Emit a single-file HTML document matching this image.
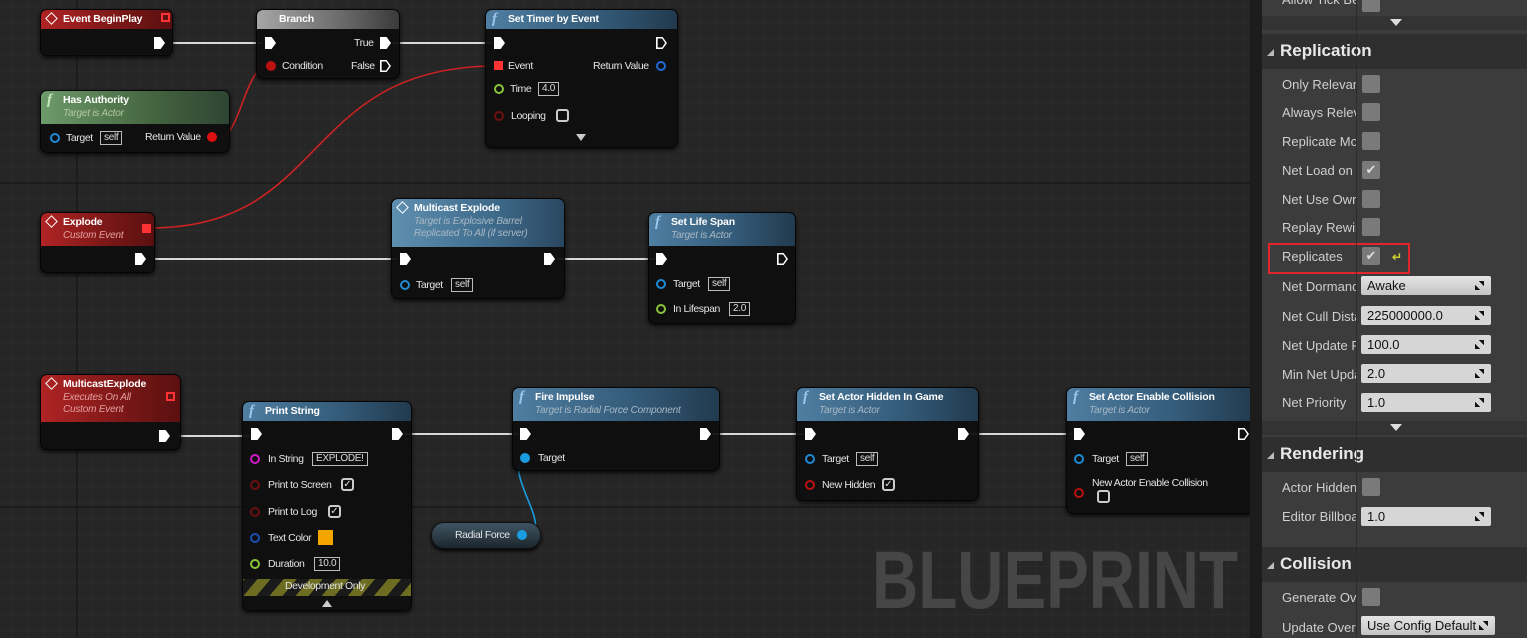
<!DOCTYPE html>
<html><head><meta charset="utf-8"><style>
*{margin:0;padding:0;box-sizing:border-box}
body{width:1527px;height:638px;overflow:hidden;position:relative;background:#262626;font-family:"Liberation Sans",sans-serif;}
.a{position:absolute}
.node{position:absolute;background:rgba(14,14,14,.94);border-radius:7px;box-shadow:0 2px 5px rgba(0,0,0,.8);border:1px solid #050505;overflow:hidden}
.hd{position:absolute;left:0;right:0;top:0;color:#fff;font-weight:bold;font-size:10.5px;letter-spacing:-0.2px;padding:3px 0 0 22px;}
.sub{display:block;font-weight:normal;font-style:italic;color:#a9b8c4;font-size:10px;line-height:12px;margin-top:2px}
.red{background:linear-gradient(to right,#b02424,#7a1717 60%,#5a1010)}
.blue{background:linear-gradient(to right,#4f7ea1,#335a78 60%,#223a4e)}
.green{background:linear-gradient(to right,#6d9a6b,#44643f 60%,#2f4533)}
.gray{background:linear-gradient(to right,#a6a6a6,#6a6a6a 60%,#3a3a3a)}
.t{position:absolute;color:#e4e4e4;font-size:10.5px;letter-spacing:-0.4px;white-space:nowrap}
.ex{position:absolute;width:11px;height:12px;background:#fff;clip-path:polygon(0 0,60% 0,100% 50%,60% 100%,0 100%)}
.exo{position:absolute;width:11px;height:12px;background:#fff;clip-path:polygon(0 0,60% 0,100% 50%,60% 100%,0 100%,0 0,15% 12%,15% 88%,55% 88%,83% 50%,55% 12%,15% 12%)}
.p{position:absolute;width:10px;height:10px;border-radius:50%;border:2px solid}
.box{position:absolute;border:1px solid #bbb;color:#ddd;font-size:10px;padding:0 3px;height:14px;line-height:12px;letter-spacing:-0.3px}
.cb{position:absolute;width:13px;height:13px;border:2px solid #ccc;border-radius:3px;color:#ddd;font-size:10px;line-height:9px;text-align:center}
.fn{position:absolute;left:6px;top:1px;font-family:"Liberation Serif",serif;font-style:italic;font-size:15px;color:#9cc6ee}
.fg{color:#c6e6b8}
.dm{position:absolute;left:6px;top:4px;width:9px;height:9px;border:1.5px solid #fff;transform:rotate(45deg)}
.panel{position:absolute;left:1262px;top:0;width:265px;height:638px;background:#3c3c3c}
.div{position:absolute;left:1250px;top:0;width:12px;height:638px;background:#1c1c1c}
.lb{position:absolute;left:20px;color:#cfcfcf;font-family:"Liberation Sans",sans-serif;font-size:13px;width:74px;overflow:hidden;white-space:nowrap}
.ck{position:absolute;left:100px;width:18px;height:18px;background:#7a7a7a;border-radius:2px;color:#ddd;font-size:13px;text-align:center;line-height:18px}
.in{position:absolute;left:99px;width:130px;height:19px;background:#d6d6d6;border-radius:2px;color:#111;font-family:"Liberation Sans",sans-serif;font-size:13px;padding-left:6px;line-height:19px}
.in:after{content:"";position:absolute;right:7px;top:5px;width:9px;height:9px;background:linear-gradient(45deg,#111 30%,transparent 30%,transparent 70%,#111 70%)}
.sec{position:absolute;left:0;width:265px;height:35px;background:#2f2f2f;color:#e8e8e8;font-family:"Liberation Sans",sans-serif;font-weight:bold;font-size:17px;padding:7px 0 0 18px}
.sec:before{content:"";position:absolute;left:5px;top:15px;border-left:7px solid transparent;border-bottom:7px solid #bbb}
.bar{position:absolute;left:0;width:265px;height:14px;background:#333}
.bar:after{content:"";position:absolute;left:128px;top:3px;border-left:6px solid transparent;border-right:6px solid transparent;border-top:7px solid #ddd}
</style></head><body>
<svg class="a" style="left:0;top:0" width="1250" height="638">
<defs><pattern id="g" width="16" height="16" patternUnits="userSpaceOnUse" x="13" y="7"><path d="M16 0V16M0 16H16" stroke="#303030" stroke-width="1" fill="none"/></pattern></defs>
<rect width="1250" height="638" fill="url(#g)"/>
<path d="M77 0V638M0 183H1250M0 507H1250" stroke="#171717" stroke-width="1.2"/>
<g stroke="#d8d8d8" stroke-width="2" fill="none">
<path d="M172 43H262M392 43H492M155 259H398M557 259H655M178 436H250M404 434H519M712 434H803M970 434H1073"/>
</g>
<path d="M220 137C240 137 245 66 268 66" stroke="#c22" stroke-width="1.6" fill="none"/>
<path d="M150 228C330 228 300 66 497 66" stroke="#c22" stroke-width="1.6" fill="none"/>
<path d="M523 535C560 535 500 470 525 458" stroke="#1a9ce0" stroke-width="1.6" fill="none"/>
</svg>

<!-- Event BeginPlay -->
<div class="node" style="left:40px;top:9px;width:133px;height:47px"><div class="hd red" style="height:19px"><span class="dm"></span>Event BeginPlay</div></div>
<div class="a" style="left:161px;top:13px;width:9px;height:9px;border:2px solid #f33"></div>
<div class="ex" style="left:154px;top:37px"></div>

<!-- Branch -->
<div class="node" style="left:256px;top:9px;width:144px;height:70px"><div class="hd gray" style="height:19px">Branch</div></div>
<div class="ex" style="left:265px;top:37px"></div>
<div class="t" style="left:354px;top:37px">True</div><div class="ex" style="left:380px;top:37px"></div>
<div class="p" style="left:266px;top:61px;background:#b11;border-color:#b11"></div><div class="t" style="left:282px;top:60px">Condition</div>
<div class="t" style="left:351px;top:60px">False</div><div class="exo" style="left:380px;top:60px"></div>

<!-- Has Authority -->
<div class="node" style="left:40px;top:90px;width:190px;height:63px"><div class="hd green" style="height:33px"><span class="fn fg">f</span>Has Authority<span class="sub" style="color:#b4c8a8">Target is Actor</span></div></div>
<div class="p" style="left:50px;top:133px;border-color:#1e8ad6"></div><div class="t" style="left:66px;top:132px">Target</div><div class="box" style="left:100px;top:131px">self</div>
<div class="t" style="left:145px;top:131px">Return Value</div><div class="p" style="left:207px;top:132px;background:#d11;border-color:#d11"></div>

<!-- Set Timer by Event -->
<div class="node" style="left:485px;top:9px;width:193px;height:139px"><div class="hd blue" style="height:19px"><span class="fn">f</span>Set Timer by Event</div></div>
<div class="ex" style="left:494px;top:37px"></div><div class="exo" style="left:656px;top:37px"></div>
<div class="a" style="left:494px;top:61px;width:9px;height:9px;background:#f33"></div><div class="t" style="left:508px;top:60px">Event</div>
<div class="t" style="left:593px;top:60px">Return Value</div><div class="p" style="left:656px;top:61px;border-color:#1e6ad6"></div>
<div class="p" style="left:494px;top:84px;border-color:#8bc43b"></div><div class="t" style="left:510px;top:83px">Time</div><div class="box" style="left:538px;top:82px">4.0</div>
<div class="p" style="left:494px;top:111px;border-color:#6b0f0f"></div><div class="t" style="left:511px;top:110px">Looping</div><div class="cb" style="left:556px;top:109px"></div>
<div class="a" style="left:576px;top:134px;border-left:5px solid transparent;border-right:5px solid transparent;border-top:7px solid #ccc"></div>

<!-- Explode -->
<div class="node" style="left:40px;top:212px;width:115px;height:61px"><div class="hd red" style="height:33px"><span class="dm"></span>Explode<span class="sub" style="color:#e3a0a0">Custom Event</span></div></div>
<div class="a" style="left:142px;top:224px;width:9px;height:9px;background:#f33"></div>
<div class="ex" style="left:135px;top:253px"></div>

<!-- Multicast Explode -->
<div class="node" style="left:391px;top:198px;width:174px;height:101px"><div class="hd blue" style="height:48px;background:linear-gradient(to right,#5f8fb0,#3e6a8a 60%,#2a4760)"><span class="dm"></span>Multicast Explode<span class="sub">Target is Explosive Barrel<br>Replicated To All (if server)</span></div></div>
<div class="ex" style="left:400px;top:253px"></div><div class="ex" style="left:544px;top:253px"></div>
<div class="p" style="left:400px;top:280px;border-color:#1e8ad6"></div><div class="t" style="left:416px;top:279px">Target</div><div class="box" style="left:451px;top:278px">self</div>

<!-- Set Life Span -->
<div class="node" style="left:648px;top:212px;width:148px;height:112px"><div class="hd blue" style="height:33px"><span class="fn">f</span>Set Life Span<span class="sub">Target is Actor</span></div></div>
<div class="ex" style="left:656px;top:253px"></div><div class="exo" style="left:777px;top:253px"></div>
<div class="p" style="left:656px;top:279px;border-color:#1e8ad6"></div><div class="t" style="left:673px;top:278px">Target</div><div class="box" style="left:708px;top:277px">self</div>
<div class="p" style="left:656px;top:304px;border-color:#8bc43b"></div><div class="t" style="left:673px;top:303px">In Lifespan</div><div class="box" style="left:729px;top:302px">2.0</div>

<!-- MulticastExplode -->
<div class="node" style="left:40px;top:374px;width:141px;height:76px"><div class="hd red" style="height:47px"><span class="dm"></span>MulticastExplode<span class="sub" style="color:#e3a0a0">Executes On All<br>Custom Event</span></div></div>
<div class="a" style="left:166px;top:392px;width:9px;height:9px;border:2px solid #f33"></div>
<div class="ex" style="left:159px;top:430px"></div>

<!-- Print String -->
<div class="node" style="left:242px;top:401px;width:170px;height:210px"><div class="hd blue" style="height:19px"><span class="fn">f</span>Print String</div>
<div class="a" style="left:0;top:177px;width:170px;height:17px;background:repeating-linear-gradient(-50deg,#6d6d22 0 10px,#1a1a1a 10px 20px)"></div></div>
<div class="ex" style="left:251px;top:428px"></div><div class="ex" style="left:392px;top:428px"></div>
<div class="p" style="left:250px;top:454px;border-color:#d018c8"></div><div class="t" style="left:268px;top:453px">In String</div><div class="box" style="left:312px;top:452px">EXPLODE!</div>
<div class="p" style="left:250px;top:480px;border-color:#6b0f0f"></div><div class="t" style="left:268px;top:479px">Print to Screen</div><div class="cb" style="left:341px;top:478px">✓</div>
<div class="p" style="left:250px;top:507px;border-color:#6b0f0f"></div><div class="t" style="left:268px;top:506px">Print to Log</div><div class="cb" style="left:328px;top:505px">✓</div>
<div class="p" style="left:250px;top:533px;border-color:#1a4fb0"></div><div class="t" style="left:268px;top:532px">Text Color</div><div class="a" style="left:318px;top:530px;width:15px;height:15px;background:#f5a500"></div>
<div class="p" style="left:250px;top:559px;border-color:#8bc43b"></div><div class="t" style="left:268px;top:558px">Duration</div><div class="box" style="left:314px;top:557px">10.0</div>
<div class="t" style="left:285px;top:580px">Development Only</div>
<div class="a" style="left:322px;top:600px;border-left:5px solid transparent;border-right:5px solid transparent;border-bottom:7px solid #ccc"></div>

<!-- Fire Impulse -->
<div class="node" style="left:512px;top:387px;width:208px;height:84px"><div class="hd blue" style="height:33px"><span class="fn">f</span>Fire Impulse<span class="sub">Target is Radial Force Component</span></div></div>
<div class="ex" style="left:520px;top:428px"></div><div class="ex" style="left:700px;top:428px"></div>
<div class="p" style="left:520px;top:453px;background:#1a9ce0;border-color:#1a9ce0"></div><div class="t" style="left:538px;top:452px">Target</div>

<!-- Radial Force -->
<div class="a" style="left:431px;top:522px;width:110px;height:27px;border-radius:13px;background:linear-gradient(#3f5564,#1c262c);border:1px solid #111;box-shadow:0 2px 4px #000"></div>
<div class="t" style="left:455px;top:529px">Radial Force</div><div class="p" style="left:517px;top:530px;background:#1a9ce0;border-color:#1a9ce0"></div>

<!-- Set Actor Hidden In Game -->
<div class="node" style="left:796px;top:387px;width:183px;height:114px"><div class="hd blue" style="height:33px"><span class="fn">f</span>Set Actor Hidden In Game<span class="sub">Target is Actor</span></div></div>
<div class="ex" style="left:805px;top:428px"></div><div class="ex" style="left:958px;top:428px"></div>
<div class="p" style="left:805px;top:454px;border-color:#1e8ad6"></div><div class="t" style="left:822px;top:453px">Target</div><div class="box" style="left:856px;top:452px">self</div>
<div class="p" style="left:805px;top:480px;border-color:#b11"></div><div class="t" style="left:822px;top:479px">New Hidden</div><div class="cb" style="left:882px;top:478px">✓</div>

<!-- Set Actor Enable Collision -->
<div class="node" style="left:1066px;top:387px;width:190px;height:127px"><div class="hd blue" style="height:33px"><span class="fn">f</span>Set Actor Enable Collision<span class="sub">Target is Actor</span></div></div>
<div class="ex" style="left:1074px;top:428px"></div><div class="exo" style="left:1238px;top:428px"></div>
<div class="p" style="left:1074px;top:454px;border-color:#1e8ad6"></div><div class="t" style="left:1092px;top:453px">Target</div><div class="box" style="left:1126px;top:452px">self</div>
<div class="p" style="left:1074px;top:488px;border-color:#b11"></div><div class="t" style="left:1092px;top:477px">New Actor Enable Collision</div><div class="cb" style="left:1097px;top:490px"></div>

<div class="a" style="left:872px;top:536px;color:#464646;font-family:'Liberation Sans',sans-serif;font-weight:bold;font-size:82px;line-height:90px;transform:scaleX(0.78);transform-origin:0 0;white-space:nowrap">BLUEPRINT</div>

<div class="div"></div>
<!-- Panel -->
<div class="panel">
<div class="lb" style="top:-8px">Allow Tick Be</div><div class="ck" style="top:-6px"></div>
<div class="bar" style="top:16px"></div>
<div class="sec" style="top:34px">Replication</div>
<div class="lb" style="top:77px">Only Relevan</div><div class="ck" style="top:75px"></div>
<div class="lb" style="top:105px">Always Relev</div><div class="ck" style="top:103px"></div>
<div class="lb" style="top:134px">Replicate Mo</div><div class="ck" style="top:132px"></div>
<div class="lb" style="top:163px">Net Load on C</div><div class="ck" style="top:161px">✔</div>
<div class="lb" style="top:192px">Net Use Own</div><div class="ck" style="top:190px"></div>
<div class="lb" style="top:220px">Replay Rewir</div><div class="ck" style="top:218px"></div>
<div class="lb" style="top:249px">Replicates</div><div class="ck" style="top:247px">✔</div>
<div class="a" style="left:130px;top:250px;color:#cccc33;font-size:12px;font-weight:bold">↵</div>
<div class="a" style="left:6px;top:243px;width:142px;height:31px;border:2px solid #e0262b"></div>
<div class="lb" style="top:279px">Net Dormanc</div>
<div class="in" style="top:276px;background:linear-gradient(#e4e4e4,#c4c4c4)">Awake</div>
<div class="lb" style="top:309px">Net Cull Dista</div><div class="in" style="top:306px">225000000.0</div>
<div class="lb" style="top:338px">Net Update F</div><div class="in" style="top:335px">100.0</div>
<div class="lb" style="top:367px">Min Net Upda</div><div class="in" style="top:364px">2.0</div>
<div class="lb" style="top:395px">Net Priority</div><div class="in" style="top:393px">1.0</div>
<div class="bar" style="top:421px"></div>
<div class="sec" style="top:437px">Rendering</div>
<div class="lb" style="top:480px">Actor Hidden</div><div class="ck" style="top:478px"></div>
<div class="lb" style="top:509px">Editor Billboa</div><div class="in" style="top:507px">1.0</div>
<div class="sec" style="top:547px">Collision</div>
<div class="lb" style="top:590px">Generate Ove</div><div class="ck" style="top:588px"></div>
<div class="lb" style="top:620px">Update Overl</div><div class="in" style="top:616px;width:134px;background:linear-gradient(#e4e4e4,#c4c4c4)">Use Config Default</div>
<div class="a" style="left:94px;top:0;width:1px;height:638px;background:#262626;opacity:.7"></div>
</div>
</body></html>
